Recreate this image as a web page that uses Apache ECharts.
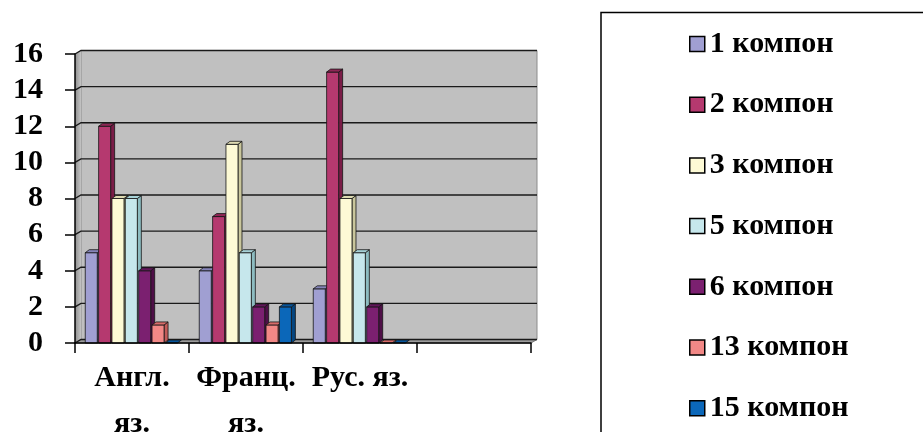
<!DOCTYPE html>
<html>
<head>
<meta charset="utf-8">
<script src="https://cdn.jsdelivr.net/npm/echarts@6/dist/echarts.min.js"></script>
<style>
  html, body { margin: 0; padding: 0; background: #fff; }
  #chart { width: 923px; height: 432px; }
</style>
</head>
<body>
<div id="chart"></div>
<script>
// Categories (the fourth slot is an empty group)
const categories = ['Англ. яз.', 'Франц. яз.', 'Рус. яз.', ''];

// Series names
const seriesNames = ['1 компон', '2 компон', '3 компон', '5 компон', '6 компон', '13 компон', '15 компон'];

// Values per series, one per language
const comp1 = [5, 4, 3];
const comp2 = [12, 7, 15];
const comp3 = [8, 11, 8];
const comp5 = [8, 5, 5];
const comp6 = [4, 2, 2];
const comp13 = [1, 1, 0];
const comp15 = [0, 2, 0];

// Value axis ticks
const yMin = 0;
const yMax = 16;
const yStep = 2;

const seriesValues = [comp1, comp2, comp3, comp5, comp6, comp13, comp15];

// Face colours for the prism bars: front, right side, top
const palette = [
  { front: '#a09fd2', side: '#74739f', top: '#8584b8' },
  { front: '#b5396f', side: '#7a1c47', top: '#8f2655' },
  { front: '#fdfad5', side: '#c9c69c', top: '#dedbb2' },
  { front: '#c6e7ec', side: '#8dbcc1', top: '#a7d2d7' },
  { front: '#7b2070', side: '#4e0f47', top: '#62165a' },
  { front: '#f28886', side: '#c25a58', top: '#d86c6a' },
  { front: '#0b67b9', side: '#054680', top: '#07559b' }
];

const FONT = 'Liberation Serif';
const FONT_SIZE = 30;
const BAR_DX = 4, BAR_DY = 3;     // bar depth
const WALL_DX = 6, WALL_DY = 3.5; // wall depth

// Wrap a category name at its space when it is wider than one category slot
const measureCtx = document.createElement('canvas').getContext('2d');
measureCtx.font = 'bold ' + FONT_SIZE + 'px "' + FONT + '"';
const SLOT_WIDTH = 114;
function wrapCategory(name) {
  return measureCtx.measureText(name).width > SLOT_WIDTH ? name.replace(' ', '\n') : name;
}

function barRenderer(k) {
  return function (params, api) {
    const cat = api.value(0);
    const val = api.value(1);
    const band = api.size([1, 0])[0];
    const base = api.coord([cat, 0]);
    const top = api.coord([cat, val]);
    const pitch = band * 0.82 / seriesValues.length;
    const x0 = base[0] - band / 2 + band * 0.09 + k * pitch;
    const w = pitch * 0.9;
    const yb = base[1], yt = top[1];
    const c = palette[k];
    const edge = { stroke: '#151515', lineWidth: 0.8 };
    const children = [];
    if (yb - yt > 0.5) {
      children.push({
        type: 'polygon',
        shape: { points: [[x0 + w, yt], [x0 + w + BAR_DX, yt - BAR_DY], [x0 + w + BAR_DX, yb - BAR_DY], [x0 + w, yb]] },
        style: Object.assign({ fill: c.side }, edge)
      });
      children.push({
        type: 'rect',
        shape: { x: x0, y: yt, width: w, height: yb - yt },
        style: Object.assign({ fill: c.front }, edge)
      });
    }
    children.push({
      type: 'polygon',
      shape: { points: [[x0, yt], [x0 + BAR_DX, yt - BAR_DY], [x0 + w + BAR_DX, yt - BAR_DY], [x0 + w, yt]] },
      style: Object.assign({ fill: c.top }, edge)
    });
    return { type: 'group', children: children };
  };
}

// Back wall, side wall, floor and gridlines of the 3D plot box
function wallRenderer(params, api) {
  const cs = params.coordSys;
  const x = cs.x, y = cs.y, w = cs.width, h = cs.height;
  const children = [];
  children.push({
    type: 'rect',
    shape: { x: x + WALL_DX, y: y - WALL_DY, width: w, height: h },
    style: { fill: '#c0c0c0', stroke: '#8c8c8c', lineWidth: 1 }
  });
  children.push({
    type: 'polygon',
    shape: { points: [[x, y], [x + WALL_DX, y - WALL_DY], [x + WALL_DX, y + h - WALL_DY], [x, y + h]] },
    style: {
      fill: new echarts.graphic.LinearGradient(0, 0, 1, 0, [
        { offset: 0, color: '#8e8e8e' },
        { offset: 1, color: '#c4c4c4' }
      ])
    }
  });
  children.push({
    type: 'polygon',
    shape: { points: [[x, y + h], [x + WALL_DX, y + h - WALL_DY], [x + w + WALL_DX, y + h - WALL_DY], [x + w, y + h]] },
    style: { fill: '#9c9c9c', stroke: '#7a7a7a', lineWidth: 1 }
  });
  for (let v = yMin; v <= yMax; v += yStep) {
    const py = api.coord([0, v])[1];
    children.push({
      type: 'polyline',
      shape: { points: [[x, py], [x + WALL_DX, py - WALL_DY], [x + w + WALL_DX, py - WALL_DY]] },
      style: { stroke: '#1a1a1a', lineWidth: 1.4, fill: null }
    });
  }
  return { type: 'group', children: children };
}

const chart = echarts.init(document.getElementById('chart'), null, { renderer: 'canvas' });

const series = [{
  type: 'custom',
  name: 'wall',
  renderItem: wallRenderer,
  data: [[0, 0]],
  encode: { x: 0, y: 1 },
  silent: true,
  z: 1
}];

seriesNames.forEach(function (name, k) {
  series.push({
    type: 'custom',
    name: name,
    renderItem: barRenderer(k),
    itemStyle: { color: palette[k].front },
    encode: { x: 0, y: 1 },
    data: seriesValues[k].map(function (v, i) { return [i, v]; }),
    z: 2
  });
});

chart.setOption({
  animation: false,
  backgroundColor: '#fff',
  grid: { left: 75, right: 392, top: 54, bottom: 89, containLabel: false, outerBoundsMode: 'none' },
  xAxis: {
    type: 'category',
    data: categories,
    z: 3,
    axisLine: { show: true, lineStyle: { color: '#000', width: 1.5 } },
    axisTick: { show: true, length: 10, lineStyle: { color: '#000', width: 1.5 } },
    axisLabel: {
      interval: 0,
      color: '#000',
      fontFamily: FONT,
      fontWeight: 'bold',
      fontSize: FONT_SIZE,
      lineHeight: 46,
      margin: 12,
      formatter: wrapCategory
    },
    splitLine: { show: false }
  },
  yAxis: {
    type: 'value',
    min: yMin,
    max: yMax,
    interval: yStep,
    z: 3,
    axisLine: { show: true, lineStyle: { color: '#000', width: 1.5 } },
    axisTick: { show: true, length: 10, lineStyle: { color: '#000', width: 1.5 } },
    axisLabel: {
      color: '#000',
      fontFamily: FONT,
      fontWeight: 'bold',
      fontSize: FONT_SIZE,
      margin: 32
    },
    splitLine: { show: false }
  },
  legend: {
    data: seriesNames,
    orient: 'vertical',
    left: 689,
    top: 29,
    padding: 0,
    icon: 'rect',
    itemWidth: 15,
    itemHeight: 15,
    itemGap: 30.7,
    itemStyle: { borderColor: '#000', borderWidth: 1.5 },
    textStyle: {
      color: '#000',
      fontFamily: FONT,
      fontWeight: 'bold',
      fontSize: FONT_SIZE,
      lineHeight: 30
    }
  },
  graphic: [{
    type: 'rect',
    silent: true,
    shape: { x: 601, y: 12.5, width: 400, height: 500 },
    style: { fill: 'none', stroke: '#000', lineWidth: 1.5 }
  }],
  series: series
});
</script>
</body>
</html>
